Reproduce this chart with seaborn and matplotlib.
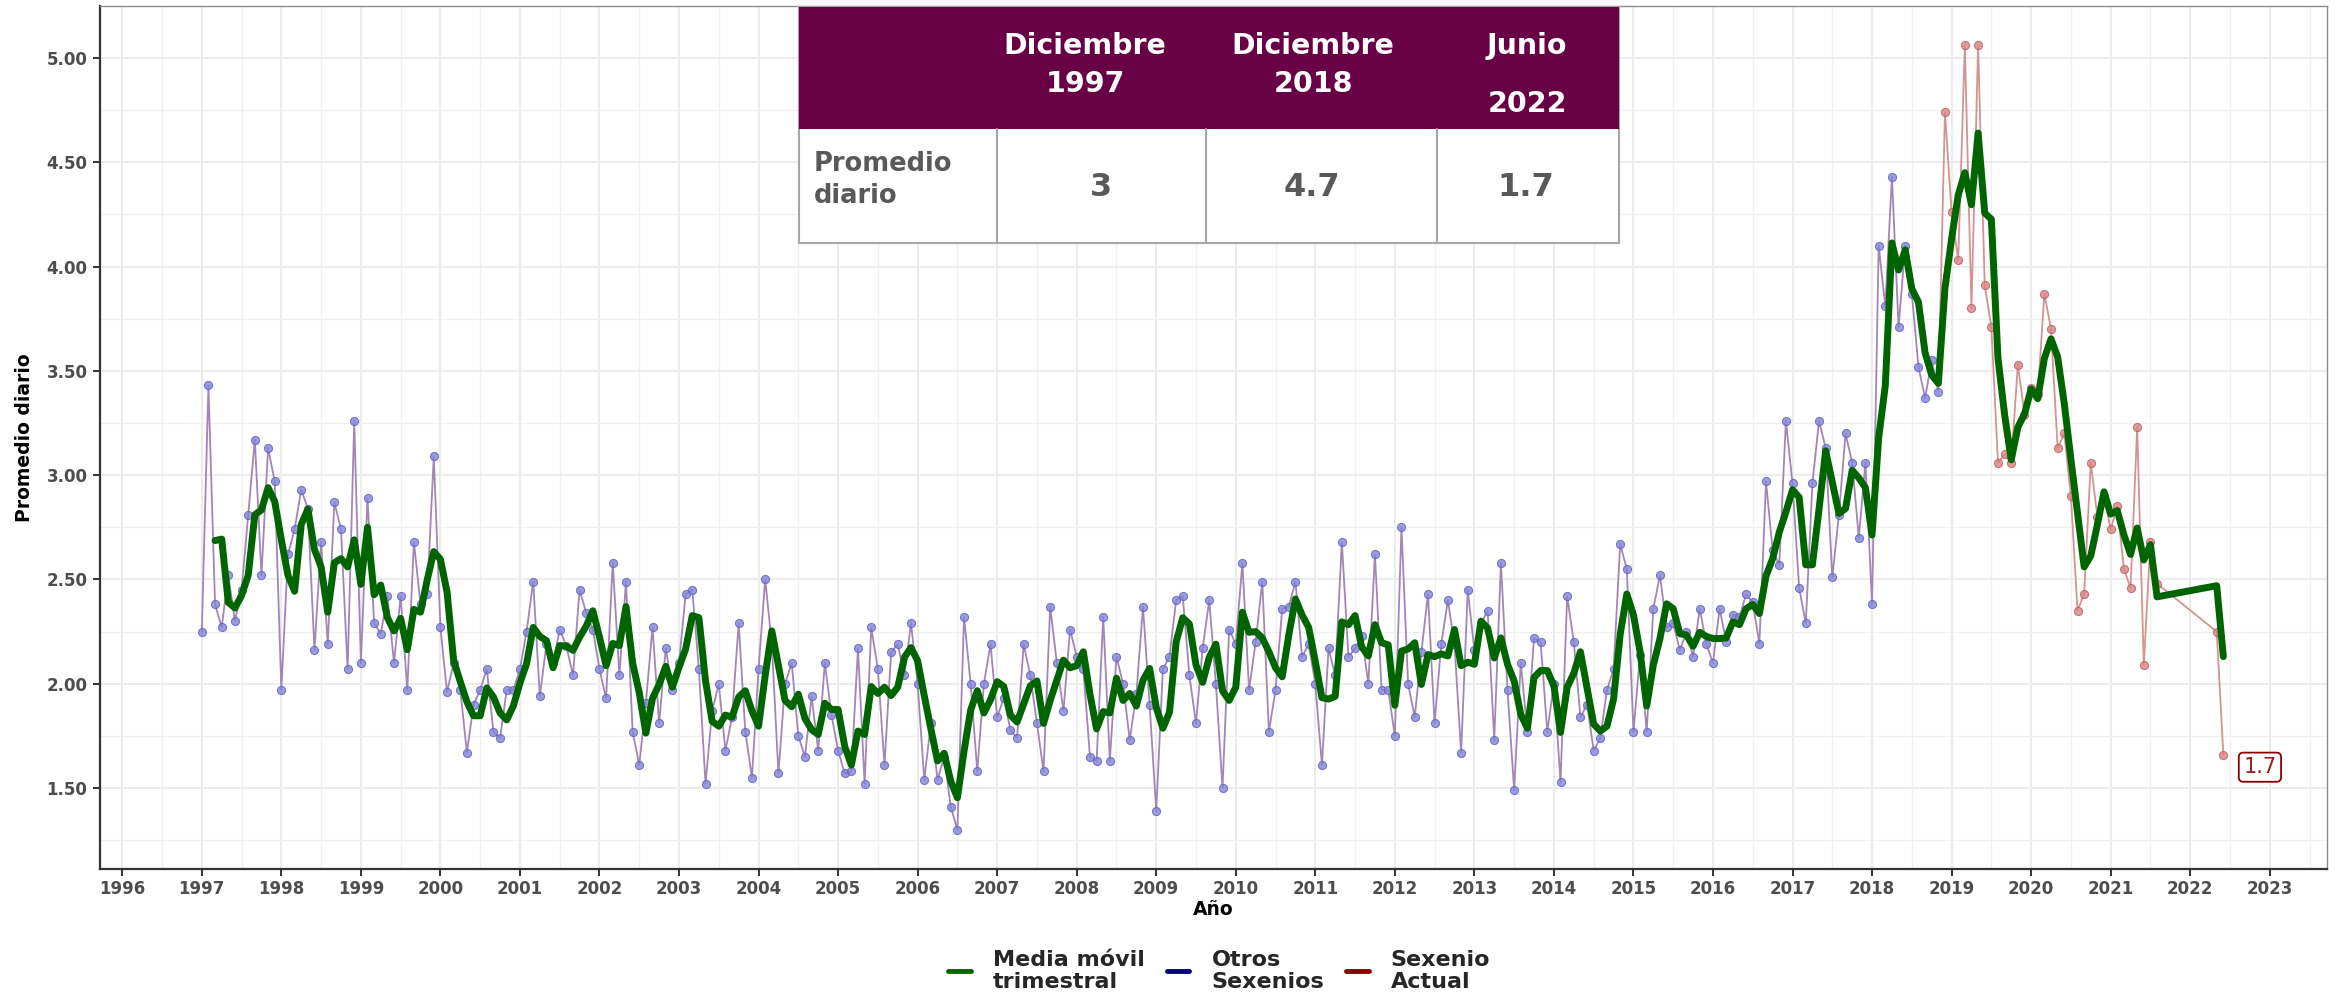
import numpy as np
import pandas as pd
import matplotlib
matplotlib.use("Agg")
import matplotlib.pyplot as plt
import seaborn as sns
from matplotlib.patches import Rectangle
from matplotlib.lines import Line2D
from matplotlib.ticker import MultipleLocator, FuncFormatter

# ---------------- DATA ----------------
anios = list(range(1997, 2022))
v1997 = [2.25, 3.43, 2.38, 2.27, 2.52, 2.30, 2.45, 2.81, 3.17, 2.52, 3.13, 2.97]
v1998 = [1.97, 2.62, 2.74, 2.93, 2.84, 2.16, 2.68, 2.19, 2.87, 2.74, 2.07, 3.26]
v1999 = [2.10, 2.89, 2.29, 2.24, 2.42, 2.10, 2.42, 1.97, 2.68, 2.38, 2.43, 3.09]
v2000 = [2.27, 1.96, 2.10, 1.97, 1.67, 1.90, 1.97, 2.07, 1.77, 1.74, 1.97, 1.97]
v2001 = [2.07, 2.25, 2.49, 1.94, 2.19, 2.10, 2.26, 2.18, 2.04, 2.45, 2.34, 2.26]
v2002 = [2.07, 1.93, 2.58, 2.04, 2.49, 1.77, 1.61, 1.91, 2.27, 1.81, 2.17, 1.97]
v2003 = [2.10, 2.43, 2.45, 2.07, 1.52, 1.87, 2.00, 1.68, 1.84, 2.29, 1.77, 1.55]
v2004 = [2.07, 2.50, 2.19, 1.57, 2.00, 2.10, 1.75, 1.65, 1.94, 1.68, 2.10, 1.85]
v2005 = [1.68, 1.57, 1.58, 2.17, 1.52, 2.27, 2.07, 1.61, 2.15, 2.19, 2.04, 2.29]
v2006 = [2.00, 1.54, 1.81, 1.54, 1.65, 1.41, 1.30, 2.32, 2.00, 1.58, 2.00, 2.19]
v2007 = [1.84, 1.93, 1.78, 1.74, 2.19, 2.04, 1.81, 1.58, 2.37, 2.10, 1.87, 2.26]
v2008 = [2.13, 2.07, 1.65, 1.63, 2.32, 1.63, 2.13, 2.00, 1.73, 1.95, 2.37, 1.90]
v2009 = [1.39, 2.07, 2.13, 2.40, 2.42, 2.04, 1.81, 2.17, 2.40, 2.00, 1.50, 2.26]
v2010 = [2.19, 2.58, 1.97, 2.20, 2.49, 1.77, 1.97, 2.36, 2.37, 2.49, 2.13, 2.19]
v2011 = [2.00, 1.61, 2.17, 2.04, 2.68, 2.13, 2.17, 2.23, 2.00, 2.62, 1.97, 1.97]
v2012 = [1.75, 2.75, 2.00, 1.84, 2.15, 2.43, 1.81, 2.19, 2.40, 2.19, 1.67, 2.45]
v2013 = [2.16, 2.29, 2.35, 1.73, 2.58, 1.97, 1.49, 2.10, 1.77, 2.22, 2.20, 1.77]
v2014 = [2.00, 1.53, 2.42, 2.20, 1.84, 1.90, 1.68, 1.74, 1.97, 2.07, 2.67, 2.55]
v2015 = [1.77, 2.14, 1.77, 2.36, 2.52, 2.27, 2.29, 2.16, 2.25, 2.13, 2.36, 2.19]
v2016 = [2.10, 2.36, 2.20, 2.33, 2.32, 2.43, 2.39, 2.19, 2.97, 2.64, 2.57, 3.26]
v2017 = [2.96, 2.46, 2.29, 2.96, 3.26, 3.13, 2.51, 2.81, 3.20, 3.06, 2.70, 3.06]
v2018 = [2.38, 4.10, 3.81, 4.43, 3.71, 4.10, 3.87, 3.52, 3.37, 3.55, 3.40, 4.74]
v2019 = [4.26, 4.03, 5.06, 3.80, 5.06, 3.91, 3.71, 3.06, 3.10, 3.06, 3.53, 3.29]
v2020 = [3.42, 3.39, 3.87, 3.70, 3.13, 3.20, 2.90, 2.35, 2.43, 3.06, 2.80, 2.90]
v2021 = [2.74, 2.85, 2.55, 2.46, 3.23, 2.09, 2.68, 2.48]          # Ene-Ago 2021
meses_2022 = [5, 6]
v2022 = [2.25, 1.66]

inicio_sexenio = (2018, 12)

tabla_encabezados = [("Diciembre", "1997"), ("Diciembre", "2018"), ("Junio", "2022")]
tabla_fila = "Promedio\ndiario"
tabla_valores = ["3", "4.7", "1.7"]
etiqueta_final = "1.7"

x_ticks = list(range(1996, 2024))
y_ticks = [1.5, 2.0, 2.5, 3.0, 3.5, 4.0, 4.5, 5.0]

# ---------------- BUILD FRAME ----------------
series = [v1997, v1998, v1999, v2000, v2001, v2002, v2003, v2004, v2005, v2006,
          v2007, v2008, v2009, v2010, v2011, v2012, v2013, v2014, v2015, v2016,
          v2017, v2018, v2019, v2020, v2021]
rows = []
for anio, vals in zip(anios, series):
    for i, v in enumerate(vals):
        rows.append((anio, i + 1, v))
for m, v in zip(meses_2022, v2022):
    rows.append((2022, m, v))
df = pd.DataFrame(rows, columns=["anio", "mes", "valor"])
df["fecha"] = df["anio"] + (df["mes"] - 1) / 12.0
df["media"] = df["valor"].rolling(3).mean()
clave = df["anio"] * 12 + df["mes"]
df["grupo"] = np.where(clave >= inicio_sexenio[0] * 12 + inicio_sexenio[1],
                       "Sexenio Actual", "Otros Sexenios")

otros = df[df["grupo"] == "Otros Sexenios"]
actual = df[df["grupo"] == "Sexenio Actual"]
actual_linea = df.loc[actual.index[0] - 1:]

# ---------------- STYLE ----------------
sns.set_theme(style="white")
plt.rcParams["font.family"] = ["DejaVu Sans"]
plt.rcParams["font.weight"] = "bold"

W, H = 2336, 996
fig = plt.figure(figsize=(W / 100, H / 100), dpi=100)
ax = fig.add_axes([100 / W, 1 - 869 / H, (2327 - 100) / W, (869 - 6) / H])

# lines
sns.lineplot(data=otros, x="fecha", y="valor", color="#A286B6", lw=1.3,
             estimator=None, ax=ax, zorder=2)
sns.lineplot(data=actual_linea, x="fecha", y="valor", color="#D49393", lw=1.3,
             estimator=None, ax=ax, zorder=2)
sns.scatterplot(data=otros, x="fecha", y="valor", color="#8484D8",
                edgecolor="#6060C4", linewidth=0.8, s=34, alpha=0.8, ax=ax, zorder=3)
sns.scatterplot(data=actual, x="fecha", y="valor", color="#D98484",
                edgecolor="#B86060", linewidth=0.8, s=34, alpha=0.8, ax=ax, zorder=3)
sns.lineplot(data=df.dropna(subset=["media"]), x="fecha", y="media",
             color="#006400", lw=5.0, estimator=None, ax=ax, zorder=4)

# axes
ax.set_xlim(1995.72, 2023.72)
ax.set_ylim(1.112, 5.249)
ax.set_xticks(x_ticks)
ax.xaxis.set_minor_locator(MultipleLocator(0.5))
ax.set_yticks(y_ticks)
ax.yaxis.set_minor_locator(MultipleLocator(0.25))
ax.xaxis.set_major_formatter(FuncFormatter(lambda v, p: f"{int(round(v))}"))
ax.yaxis.set_major_formatter(FuncFormatter(lambda v, p: f"{v:.2f}"))
ax.grid(which="major", color="#EBEBEB", lw=1.3)
ax.grid(which="minor", color="#F0F0F0", lw=1.0)
ax.set_axisbelow(True)
ax.tick_params(axis="both", which="major", labelsize=12, labelcolor="#4D4D4D",
               length=5, width=1.4, color="#333333", bottom=True, left=True)
ax.tick_params(axis="x", pad=3)
ax.tick_params(axis="y", pad=4)
ax.tick_params(which="minor", length=0)
for lab in ax.get_xticklabels() + ax.get_yticklabels():
    lab.set_fontweight("bold")
for s in ["left", "bottom"]:
    ax.spines[s].set_color("#333333")
    ax.spines[s].set_linewidth(1.6)
for s in ["top", "right"]:
    ax.spines[s].set_color("#8C8C8C")
    ax.spines[s].set_linewidth(1.0)

ax.set_xlabel("Año", fontsize=13.5, fontweight="bold", color="black", labelpad=1)
ax.set_ylabel("Promedio diario", fontsize=13.5, fontweight="bold", color="black", labelpad=9)

# end label
ult = df.iloc[-1]
ax.text(ult["fecha"] + 0.46, ult["valor"] - 0.06, etiqueta_final, fontsize=15,
        fontweight="normal", color="#9E1B1B", ha="center", va="center", zorder=6,
        bbox=dict(boxstyle="round,pad=0.22", fc="white", ec="#8B0000", lw=1.3))

# legend
handles = [Line2D([0], [0], color="#006400", lw=3.5),
           Line2D([0], [0], color="#00008B", lw=3.5),
           Line2D([0], [0], color="#8B0000", lw=3.5)]
labels = ["Media móvil\ntrimestral", "Otros\nSexenios", "Sexenio\nActual"]
leg = fig.legend(handles, labels, loc="center", bbox_to_anchor=(0.522, 0.025), ncol=3,
                 frameon=False, prop={"size": 16, "weight": "bold"}, handlelength=1.0,
                 handletextpad=1.0, columnspacing=1.0, labelspacing=0.2)
for t in leg.get_texts():
    t.set_linespacing(1.15)

# table
def fx(px):
    return px / W

def fy(py):
    return 1 - py / H

cols = [799, 997, 1206, 1437, 1619]
top, mid, bot = 7, 129, 243
gris = "#A6A6A6"
fig.add_artist(Rectangle((fx(cols[0]), fy(bot)), (cols[-1] - cols[0]) / W, (bot - top) / H,
                         transform=fig.transFigure, fc="white", ec=gris, lw=1.5, zorder=5))
fig.add_artist(Rectangle((fx(cols[0]), fy(mid)), (cols[-1] - cols[0]) / W, (mid - top) / H,
                         transform=fig.transFigure, fc="#680046", ec="none", zorder=6))
for c in cols[1:-1]:
    fig.add_artist(Line2D([fx(c), fx(c)], [fy(bot), fy(mid)], color=gris, lw=1.5,
                          transform=fig.transFigure, zorder=6))
head_x = [1085, 1313, 1527]
line2_y = [84, 84, 104]
for hx, (l1, l2), y2 in zip(head_x, tabla_encabezados, line2_y):
    fig.text(fx(hx), fy(46), l1, ha="center", va="center", color="white",
             fontsize=20.5, fontweight="bold", zorder=7)
    fig.text(fx(hx), fy(y2), l2, ha="center", va="center", color="white",
             fontsize=20.5, fontweight="bold", zorder=7)
fig.text(fx(814), fy(180), tabla_fila, ha="left", va="center", color="#595959",
         fontsize=18.5, fontweight="bold", linespacing=1.3, zorder=7)
val_x = [1101, 1312, 1526]
for vx, txt in zip(val_x, tabla_valores):
    fig.text(fx(vx), fy(187), txt, ha="center", va="center", color="#595959",
             fontsize=23, fontweight="bold", zorder=7)

fig.savefig("out.png", dpi=100)
